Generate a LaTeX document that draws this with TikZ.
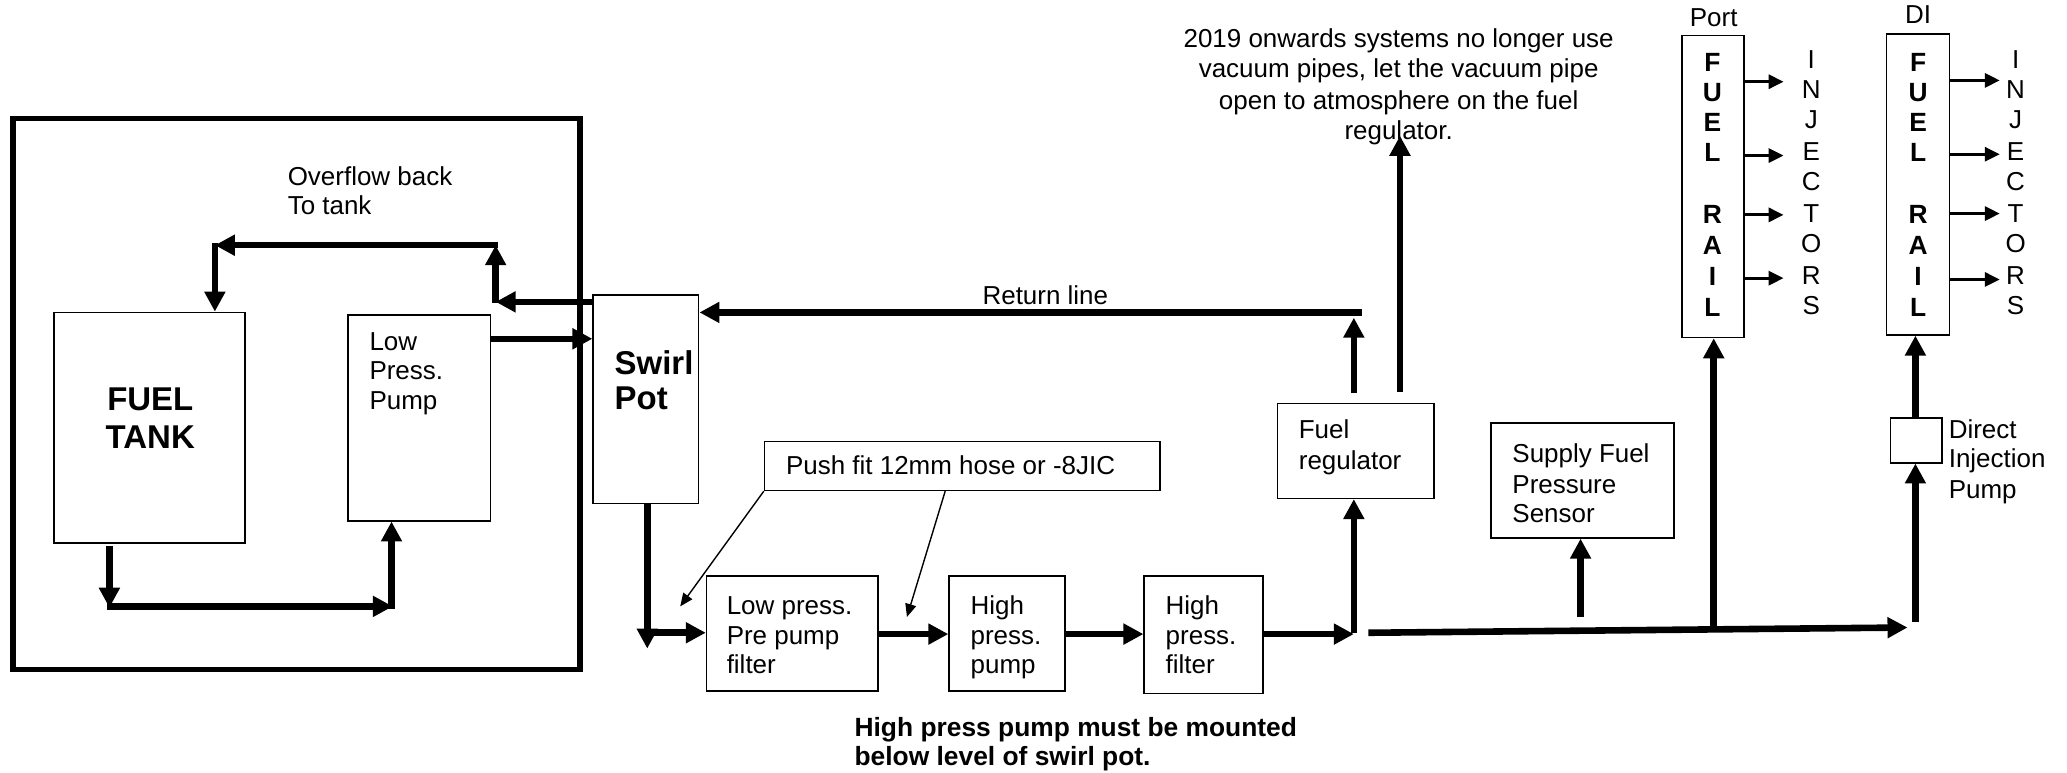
\documentclass[tikz,border=0pt]{standalone}
\usepackage{fontspec}
\setmainfont{Liberation Sans}
\usetikzlibrary{arrows.meta,fit,calc}
\begin{document}
\begin{tikzpicture}[x=0.66pt,y=-0.66pt,
  box/.style={draw,line width=0.8pt,inner sep=0pt},
  pipe/.style={line width=3.3pt,-{Triangle[length=10pt,width=10pt]}},
  railarr/.style={line width=1.6pt,-{Triangle[length=7.5pt,width=7pt]}},
  notearr/.style={line width=0.7pt,-{Triangle[length=6.5pt,width=5.5pt]}},
  txt/.style={inner sep=0pt,font=\fontsize{13}{15.3}\selectfont},
  btxt/.style={inner sep=0pt,font=\fontsize{13.2}{15.3}\selectfont\bfseries},
  big/.style={inner sep=0pt,font=\fontsize{16.5}{19}\selectfont\bfseries}]
\useasboundingbox (0,0) rectangle (1568,586);
\fill[white] (0,0) rectangle (1568,586);
% boxes
\draw[line width=2.8pt] (10,90) rectangle (440,508);
\node[box,fit={(41,237) (186,412)}] (tank) {};
\node[box,fit={(264,239) (372,395)}] (lpp) {};
\node[box,fit={(450,224) (530,382)}] (swirl) {};
\node[box,fit={(580,335) (880,372)}] (push) {};
\node[box,fit={(536,437) (666,524)}] (lpf) {};
\node[box,fit={(720,437) (808,524)}] (hpp) {};
\node[box,fit={(868,437) (958,526)}] (hpf) {};
\node[box,fit={(969,306) (1088,378)}] (reg) {};
\node[box,fit={(1131,321) (1270,408)}] (sens) {};
\node[box,fit={(1434,317) (1473,351)}] (dip) {};
\node[box,fit={(1276,27) (1323,256)}] (prail) {};
\node[box,fit={(1431,26) (1479,254)}] (drail) {};
% texts
\node[big] (tanktxt) at (114,320) {\begin{tabular}{@{}c@{}}FUEL\\TANK\end{tabular}};
\node[txt,anchor=base west] (lpp1) at (280,266) {Low};
\node[txt,anchor=base west] (lpp2) at (280,288) {Press.};
\node[txt,anchor=base west] (lpp3) at (280,311) {Pump};
\node[big,anchor=base west] (sw1) at (466,284) {Swirl};
\node[big,anchor=base west] (sw2) at (466,311) {Pot};
\node[txt,anchor=base west] (of1) at (218,141) {Overflow back};
\node[txt,anchor=base west] (of2) at (218,163) {To tank};
\node[txt,anchor=base] (ret) at (793,231) {Return line};
\node[txt,anchor=base] (v1) at (1061,36) {2019 onwards systems no longer use};
\node[txt,anchor=base] (v2) at (1061,59) {vacuum pipes, let the vacuum pipe};
\node[txt,anchor=base] (v3) at (1061,83) {open to atmosphere on the fuel};
\node[txt,anchor=base] (v4) at (1061,106) {regulator.};
\node[txt,anchor=base west] (rg1) at (985,333) {Fuel};
\node[txt,anchor=base west] (rg2) at (985,356) {regulator};
\node[txt,anchor=base west] (sn1) at (1147,351) {Supply Fuel};
\node[txt,anchor=base west] (sn2) at (1147,374) {Pressure};
\node[txt,anchor=base west] (sn3) at (1147,396) {Sensor};
\node[txt,anchor=base west] (dp1) at (1478,333) {Direct};
\node[txt,anchor=base west] (dp2) at (1478,355) {Injection};
\node[txt,anchor=base west] (dp3) at (1478,378) {Pump};
\node[txt,anchor=base west] (pf) at (596,360) {Push fit 12mm hose or -8JIC};
\node[txt,anchor=base west] (a1) at (551,466) {Low press.};
\node[txt,anchor=base west] (a2) at (551,489) {Pre pump};
\node[txt,anchor=base west] (a3) at (551,511) {filter};
\node[txt,anchor=base west] (b1) at (736,466) {High};
\node[txt,anchor=base west] (b2) at (736,489) {press.};
\node[txt,anchor=base west] (b3) at (736,511) {pump};
\node[txt,anchor=base west] (c1) at (884,466) {High};
\node[txt,anchor=base west] (c2) at (884,489) {press.};
\node[txt,anchor=base west] (c3) at (884,511) {filter};
\node[btxt,anchor=base west] (w1) at (648,559) {High press pump must be mounted};
\node[btxt,anchor=base west] (w2) at (648,581) {below level of swirl pot.};
\node[txt,anchor=base] (portl) at (1300,20) {Port};
\node[txt,anchor=base] (dil) at (1455,18) {DI};
% rail letters
\foreach \l/\y [count=\i] in {F/47,U/70,E/93,L/116,R/163,A/186,I/210,L/233}{
  \node[btxt] (pr\i) at (1299,\y) {\l};
  \node[btxt] (dr\i) at (1455,\y) {\l};
}
\foreach \l/\y [count=\i] in {I/45,N/68,J/91,E/115,C/138,T/162,O/185,R/209,S/232}{
  \node[txt] (pi\i) at (1374,\y) {\l};
  \node[txt] (di\i) at (1529,\y) {\l};
}
% coordinates
\coordinate (t1) at (83,414);
\coordinate (t2) at (83,461);
\coordinate (t3) at (81,460);
\coordinate (t4) at (298,460);
\coordinate (t5) at (297,462);
\coordinate (o1) at (376,229);
\coordinate (o2) at (376,230);
\coordinate (o3) at (376,186);
\coordinate (o4) at (378,186);
\coordinate (o5) at (163,186);
\coordinate (o6) at (163,184);
\coordinate (s1) at (491,492);
\coordinate (s2) at (489,480);
\coordinate (n1) at (516,460);
\coordinate (n2) at (688,468);
\coordinate (j1) at (1027,481);
\coordinate (j2) at (1027,480);
\coordinate (r1) at (1027,241);
\coordinate (r2) at (1033,237);
\coordinate (vac) at (1062,103);
\coordinate (m1) at (1038,480);
\coordinate (m2) at (1447,476);
\coordinate (p0) at (1300,477);
\coordinate (q0) at (1199,468);
\coordinate (d0) at (1453,472);
% connectors
\draw[pipe] (t1) -- (t2);
\draw[pipe] (t3) -- (t4);
\draw[pipe] (t5) -- (lpp.south -| t5);
\draw[pipe] (swirl.west |- o1) -- (o1);
\draw[pipe] (o2) -- (o3);
\draw[pipe] (o4) -- (o5);
\draw[pipe] (o6) -- (tank.north -| o6);
\draw[pipe] (lpp.east |- 0,257) -- (swirl.west |- 0,257);
\draw[pipe] (swirl.south -| s1) -- (s1);
\draw[pipe] (s2) -- (lpf.west |- s2);
\draw[notearr] (push.south west) -- (n1);
\draw[notearr] (push.south -| 717,0) -- (n2);
\draw[pipe] (lpf.east |- 0,481) -- (hpp.west |- 0,481);
\draw[pipe] (hpp.east |- 0,481) -- (hpf.west |- 0,481);
\draw[pipe] (hpf.east |- j1) -- (j1);
\draw[pipe] (j2) -- (reg.south -| j2);
\draw[pipe] ($(reg.north -| r1)+(0,-7)$) -- (r1);
\draw[pipe] (r2) -- (swirl.east |- r2);
\draw[pipe] ($(reg.north -| vac)+(0,-8)$) -- (vac);
\draw[pipe] (m1) -- (m2);
\draw[pipe] (q0) -- (sens.south -| q0);
\draw[pipe] (p0) -- (prail.south -| p0);
\draw[pipe] (d0) -- (dip.south -| d0);
\draw[pipe] (dip.north -| d0) -- (drail.south -| d0);
\foreach \y in {62,118,163,211}{\draw[railarr] (prail.east |- 0,\y) -- (1353,\y);}
\foreach \y in {61,117,162,212}{\draw[railarr] (drail.east |- 0,\y) -- (1517,\y);}
\end{tikzpicture}
\end{document}
